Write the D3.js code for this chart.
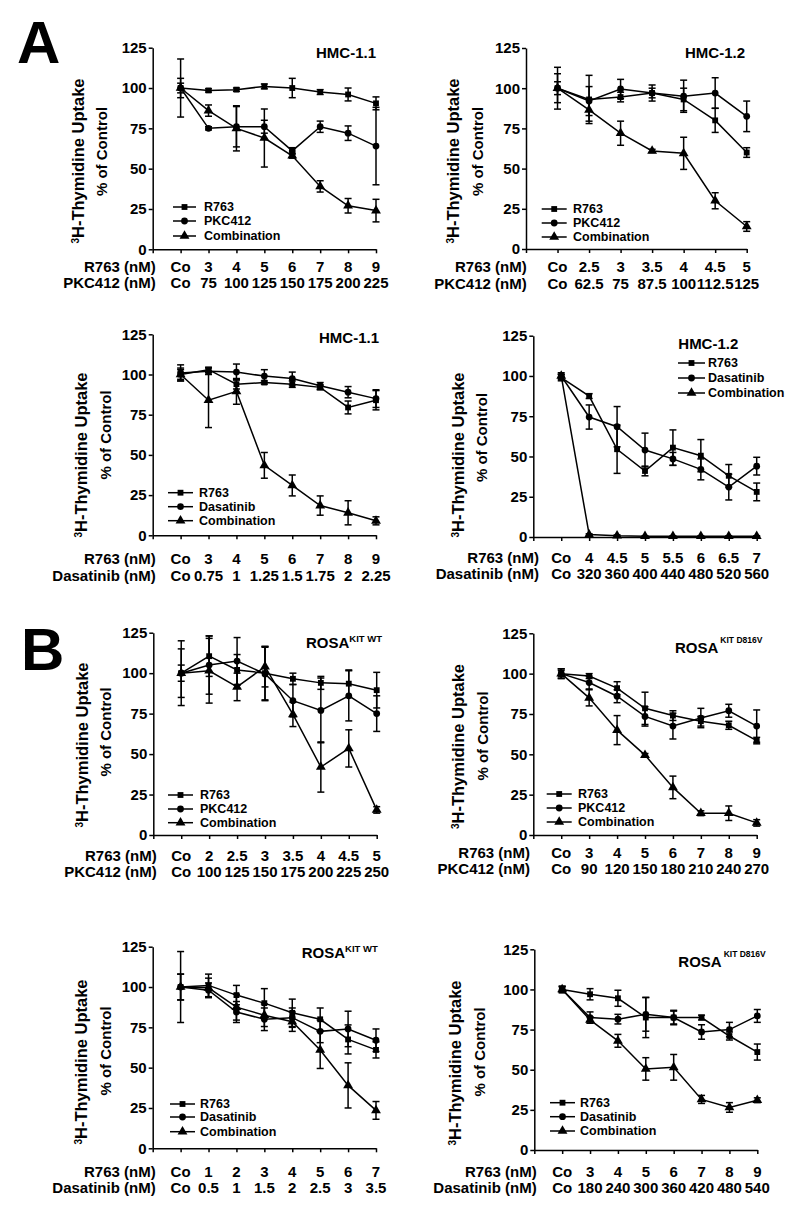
<!DOCTYPE html>
<html>
<head>
<meta charset="utf-8">
<script src="https://cdn.jsdelivr.net/npm/d3@7/dist/d3.min.js"></script>
<style>
  html, body { margin: 0; padding: 0; background: #fff; }
  svg { display: block; font-family: "Liberation Sans", Arial, sans-serif; font-weight: bold; }
</style>
</head>
<body>
<svg id="chart" width="800" height="1214"></svg>
<script>
// ================= DATA =================
const yTickValues = [0, 25, 50, 75, 100, 125];

// Panel 1: HMC-1.1, R763 + PKC412
const p1Title = "HMC-1.1";
const p1Row1 = ["Co", "3", "4", "5", "6", "7", "8", "9"];
const p1Row2 = ["Co", "75", "100", "125", "150", "175", "200", "225"];
const p1R763 = [100, 98.5, 99, 101, 100, 97.5, 96, 90.5];
const p1R763Err = [3, 1, 1, 1.5, 6, 1.5, 4, 4];
const p1Drug = [100, 75, 76, 76, 61, 76, 72, 64];
const p1DrugErr = [6, 1, 12.5, 4, 2, 3.5, 4.5, 24];
const p1Comb = [100, 86, 75, 69, 58, 39, 27, 24];
const p1CombErr = [18, 3.5, 14, 18, 1.5, 3.5, 4.5, 7];

// Panel 2: HMC-1.2, R763 + PKC412
const p2Title = "HMC-1.2";
const p2Row1 = ["Co", "2.5", "3", "3.5", "4", "4.5", "5"];
const p2Row2 = ["Co", "62.5", "75", "87.5", "100", "112.5", "125"];
const p2R763 = [100, 93, 94.5, 97, 93, 80, 60];
const p2R763Err = [4, 15, 3, 3, 7, 7.5, 3];
const p2Drug = [100, 92, 99.5, 97, 95, 97, 82.5];
const p2DrugErr = [9, 9, 6, 5, 10, 9.5, 9.5];
const p2Comb = [100, 86.5, 72, 61, 59.5, 30, 14];
const p2CombErr = [13, 7, 7.5, 1, 10, 5, 3];

// Panel 3: HMC-1.1, R763 + Dasatinib
const p3Title = "HMC-1.1";
const p3Row1 = ["Co", "3", "4", "5", "6", "7", "8", "9"];
const p3Row2 = ["Co", "0.75", "1", "1.25", "1.5", "1.75", "2", "2.25"];
const p3R763 = [100, 103, 94, 95, 94, 92, 79.5, 84];
const p3R763Err = [3, 1.5, 3, 1, 2, 1.5, 4, 6];
const p3Drug = [101, 102, 101.5, 99, 97.5, 93, 89, 85];
const p3DrugErr = [5, 2, 5, 4, 4, 2, 3.5, 5.5];
const p3Comb = [100, 84, 89.5, 43.5, 31, 18.5, 14, 9];
const p3CombErr = [4, 17, 8, 8, 6.5, 6, 7.5, 2.5];

// Panel 4: HMC-1.2, R763 + Dasatinib
const p4Title = "HMC-1.2";
const p4Row1 = ["Co", "4", "4.5", "5", "5.5", "6", "6.5", "7"];
const p4Row2 = ["Co", "320", "360", "400", "440", "480", "520", "560"];
const p4R763 = [99, 87.5, 54.5, 41, 55.5, 50.5, 38, 28];
const p4R763Err = [2, 1.5, 15, 3, 11, 10, 7, 5.5];
const p4Drug = [100, 74.5, 68.5, 54, 48.5, 42, 31, 44];
const p4DrugErr = [2, 7.5, 12.5, 10.5, 4, 6.5, 8, 5.5];
const p4Comb = [100, 1.5, 0.8, 0.5, 0.5, 0.5, 0.5, 0.5];
const p4CombErr = [1, 0.5, 0.5, 0.3, 0.3, 0.3, 0.3, 0.3];

// Panel 5: ROSA KIT WT, R763 + PKC412
const p5Title = ["ROSA", "KIT WT"];
const p5Row1 = ["Co", "2", "2.5", "3", "3.5", "4", "4.5", "5"];
const p5Row2 = ["Co", "100", "125", "150", "175", "200", "225", "250"];
const p5R763 = [100, 110.5, 102, 100, 96.5, 94, 93.5, 89.5];
const p5R763Err = [15, 12.5, 9.5, 16.5, 3.5, 4, 8.5, 11];
const p5Drug = [100, 105, 107.5, 99.5, 83, 77, 86, 75];
const p5DrugErr = [20, 18, 14.5, 16.5, 10, 20, 15.5, 11];
const p5Comb = [100, 101.5, 91.5, 104, 74.5, 42, 53.5, 15.5];
const p5CombErr = [5, 20, 8.5, 12.5, 7.5, 15.5, 11.5, 2];

// Panel 6: ROSA KIT D816V, R763 + PKC412
const p6Title = ["ROSA", "KIT D816V"];
const p6Row1 = ["Co", "3", "4", "5", "6", "7", "8", "9"];
const p6Row2 = ["Co", "90", "120", "150", "180", "210", "240", "270"];
const p6R763 = [100, 98.5, 91, 78.5, 74, 70.5, 68, 58.5];
const p6R763Err = [3, 1.5, 4, 10, 3, 3, 2.5, 2];
const p6Drug = [100, 94.5, 86, 73.5, 67.5, 72.5, 77, 67.5];
const p6DrugErr = [3, 4, 4, 6, 8, 6, 4, 10];
const p6Comb = [100, 85, 65, 49.5, 29.5, 13.5, 13.5, 7.5];
const p6CombErr = [2, 5, 9, 1, 7, 1.5, 4.5, 2];

// Panel 7: ROSA KIT WT, R763 + Dasatinib
const p7Title = ["ROSA", "KIT WT"];
const p7Row1 = ["Co", "1", "2", "3", "4", "5", "6", "7"];
const p7Row2 = ["Co", "0.5", "1", "1.5", "2", "2.5", "3", "3.5"];
const p7R763 = [100, 101, 95, 90, 84, 80, 67.5, 61];
const p7R763Err = [8, 7, 6, 9, 8.5, 7, 9, 5];
const p7Drug = [100, 98, 84.5, 80, 81, 72.5, 74, 67];
const p7DrugErr = [22, 4.5, 6.5, 7, 6, 7, 11, 7];
const p7Comb = [100, 99.5, 87.5, 82.5, 78.5, 61, 39, 23.5];
const p7CombErr = [8, 6, 8, 7, 6, 11.5, 14, 5.5];

// Panel 8: ROSA KIT D816V, R763 + Dasatinib
const p8Title = ["ROSA", "KIT D816V"];
const p8Row1 = ["Co", "3", "4", "5", "6", "7", "8", "9"];
const p8Row2 = ["Co", "180", "240", "300", "360", "420", "480", "540"];
const p8R763 = [100, 97, 94.5, 82.5, 82.5, 82.5, 71, 61];
const p8R763Err = [2, 3.5, 5, 12.5, 4, 1.5, 2.5, 5];
const p8Drug = [100, 82.5, 81.5, 84.5, 82.5, 73.5, 75, 83.5];
const p8DrugErr = [2, 3.5, 3, 10.5, 4.5, 4.5, 4.5, 4];
const p8Comb = [100, 81, 68, 50.5, 51.5, 31.5, 26.5, 31];
const p8CombErr = [1.5, 2, 4, 7, 8, 2.5, 3, 1.5];

// ================= LAYOUT =================
const FONT = 15;
const panels = [
  { title: p1Title, drug: "PKC412", row1: p1Row1, row2: p1Row2,
    series: [[p1R763, p1R763Err], [p1Drug, p1DrugErr], [p1Comb, p1CombErr]],
    L: { x0: 152.7, x1: 376, yt: 47.7, yb: 249.3, rlx: 155.7, r1: 267, r2: 283,
         tx: 376, ty: 58.3, ta: "end", leg: [173, 196, 204, [207, 221, 236]],
         t1: [85, 161], t2: [102, 151.5] } },
  { title: p2Title, drug: "PKC412", row1: p2Row1, row2: p2Row2,
    series: [[p2R763, p2R763Err], [p2Drug, p2DrugErr], [p2Comb, p2CombErr]],
    L: { x0: 526, x1: 746.7, yt: 48, yb: 249, rlx: 526.7, r1: 267, r2: 284,
         tx: 745, ty: 58.3, ta: "end", leg: [541.7, 566.7, 573, [209, 223, 237]],
         t1: [460, 161], t2: [478, 151.5] } },
  { title: p3Title, drug: "Dasatinib", row1: p3Row1, row2: p3Row2,
    series: [[p3R763, p3R763Err], [p3Drug, p3DrugErr], [p3Comb, p3CombErr]],
    L: { x0: 152.7, x1: 376, yt: 334.3, yb: 535.3, rlx: 155.7, r1: 558.3, r2: 576,
         tx: 379, ty: 342.7, ta: "end", leg: [168, 193, 199, [492.7, 506.7, 520.7]],
         t1: [88, 455], t2: [106, 435] } },
  { title: p4Title, drug: "Dasatinib", row1: p4Row1, row2: p4Row2,
    series: [[p4R763, p4R763Err], [p4Drug, p4DrugErr], [p4Comb, p4CombErr]],
    L: { x0: 533.3, x1: 756.7, yt: 335.7, yb: 537, rlx: 539, r1: 558, r2: 574,
         tx: 678.3, ty: 349.3, ta: "start", leg: [678, 705, 708, [363, 378, 393]],
         t1: [465, 455], t2: [482, 437.5] } },
  { title: p5Title, drug: "PKC412", row1: p5Row1, row2: p5Row2, sup: "wt",
    series: [[p5R763, p5R763Err], [p5Drug, p5DrugErr], [p5Comb, p5CombErr]],
    L: { x0: 153.3, x1: 376.7, yt: 632.7, yb: 835, rlx: 156.7, r1: 856, r2: 871.7,
         tx: 306, ty: 648, ta: "start", leg: [168, 193, 200, [795, 809, 822.7]],
         t1: [89, 745], t2: [106, 732] } },
  { title: p6Title, drug: "PKC412", row1: p6Row1, row2: p6Row2, sup: "mut",
    series: [[p6R763, p6R763Err], [p6Drug, p6DrugErr], [p6Comb, p6CombErr]],
    L: { x0: 533.3, x1: 756.7, yt: 633.3, yb: 835, rlx: 530, r1: 852.7, r2: 869,
         tx: 675, ty: 653.3, ta: "start", leg: [546.7, 571.7, 578, [794, 808, 822]],
         t1: [465, 746.5], t2: [483, 736] } },
  { title: p7Title, drug: "Dasatinib", row1: p7Row1, row2: p7Row2, sup: "wt",
    series: [[p7R763, p7R763Err], [p7Drug, p7DrugErr], [p7Comb, p7CombErr]],
    L: { x0: 152.7, x1: 376, yt: 946.7, yb: 1148.3, rlx: 155.7, r1: 1171.7, r2: 1187.3,
         tx: 301.7, ty: 958.3, ta: "start", leg: [170, 195, 200, [1104, 1117, 1131.7]],
         t1: [88, 1062], t2: [106, 1051] } },
  { title: p8Title, drug: "Dasatinib", row1: p8Row1, row2: p8Row2, sup: "mut",
    series: [[p8R763, p8R763Err], [p8Drug, p8DrugErr], [p8Comb, p8CombErr]],
    L: { x0: 534.3, x1: 757.3, yt: 949.3, yb: 1150, rlx: 536.7, r1: 1171.7, r2: 1187.3,
         tx: 678.3, ty: 966.7, ta: "start", leg: [550, 575, 580, [1102.7, 1116.7, 1131]],
         t1: [461.7, 1063], t2: [480, 1052] } }
];

const svg = d3.select("#chart");
const symbols = [d3.symbolSquare, d3.symbolCircle, d3.symbolTriangle];
const symSizes = [34, 36, 42];

function marker(g, k, cx, cy) {
  g.append("path")
    .attr("d", d3.symbol().type(symbols[k]).size(symSizes[k])())
    .attr("transform", `translate(${cx},${cy})`)
    .attr("fill", "#000");
}

function drawPanel(P) {
  const L = P.L;
  const g = svg.append("g");
  const n = P.row1.length;
  const x = d3.scalePoint().domain(d3.range(n + 1)).range([L.x0, L.x1]);
  const y = d3.scaleLinear().domain([0, 125]).range([L.yb, L.yt]);

  // axes
  const xa = g.append("g").attr("transform", `translate(0,${L.yb})`)
    .call(d3.axisBottom(x).tickSize(4).tickSizeOuter(0).tickFormat(""));
  const ya = g.append("g").attr("transform", `translate(${L.x0},0)`)
    .call(d3.axisLeft(y).tickValues(yTickValues).tickSize(4).tickSizeOuter(0).tickPadding(2));
  [xa, ya].forEach(a => {
    a.selectAll("path,line").attr("stroke", "#000").attr("stroke-width", 1.5);
    a.selectAll("text").attr("font-size", FONT).attr("font-weight", "bold")
      .attr("font-family", "'Liberation Sans', Arial, sans-serif").attr("fill", "#000");
  });

  // category labels
  const rows = [[P.row1, L.r1, "R763 (nM)"], [P.row2, L.r2, P.drug + " (nM)"]];
  rows.forEach(([labs, ry, name]) => {
    g.append("text").attr("x", L.rlx).attr("y", ry).attr("dy", "0.35em")
      .attr("text-anchor", "end").attr("font-size", FONT).text(name);
    g.selectAll(null).data(labs).enter().append("text")
      .attr("x", (d, i) => x(i + 1)).attr("y", ry).attr("dy", "0.35em")
      .attr("text-anchor", "middle").attr("font-size", FONT).text(d => d);
  });

  // y title
  const t1 = g.append("text").attr("transform", `translate(${L.t1[0]},${L.t1[1]}) rotate(-90)`)
    .attr("text-anchor", "middle").attr("dy", "0.35em").attr("font-size", 16.5);
  t1.append("tspan").attr("font-size", 10).attr("dy", "-0.1em").attr("baseline-shift", "super").text("3");
  t1.append("tspan").text("H-Thymidine Uptake");
  g.append("text").attr("transform", `translate(${L.t2[0]},${L.t2[1]}) rotate(-90)`)
    .attr("text-anchor", "middle").attr("dy", "0.35em").attr("font-size", FONT).text("% of Control");

  // panel title
  if (Array.isArray(P.title)) {
    const tt = g.append("text").attr("x", L.tx).attr("y", L.ty).attr("text-anchor", L.ta).attr("font-size", FONT);
    tt.append("tspan").text(P.title[0]);
    if (P.sup === "wt") {
      tt.append("tspan").attr("font-size", 9.5).attr("dy", -6).text(P.title[1]);
    } else {
      tt.append("tspan").attr("font-size", 8.5).attr("dx", 2).attr("dy", -10).text(P.title[1]);
    }
  } else {
    g.append("text").attr("x", L.tx).attr("y", L.ty).attr("text-anchor", L.ta)
      .attr("font-size", FONT).text(P.title);
  }

  // series
  const line = d3.line().x(d => x(d.i)).y(d => y(d.v));
  P.series.forEach(([vals, errs], k) => {
    const pts = vals.map((v, i) => ({ i: i + 1, v, e: errs[i] }));
    g.append("path").datum(pts).attr("d", line)
      .attr("fill", "none").attr("stroke", "#000").attr("stroke-width", 1.5);
  });
  P.series.forEach(([vals, errs], k) => {
    const pts = vals.map((v, i) => ({ i: i + 1, v, e: errs[i] }));
    const eb = g.append("g").attr("stroke", "#000").attr("stroke-width", 1.5);
    pts.forEach(p => {
      const cx = x(p.i), top = y(p.v + p.e), bot = y(Math.max(0, p.v - p.e));
      eb.append("line").attr("x1", cx).attr("x2", cx).attr("y1", top).attr("y2", bot);
      eb.append("line").attr("x1", cx - 3.5).attr("x2", cx + 3.5).attr("y1", top).attr("y2", top);
      eb.append("line").attr("x1", cx - 3.5).attr("x2", cx + 3.5).attr("y1", bot).attr("y2", bot);
    });
    pts.forEach(p => marker(g, k, x(p.i), y(p.v)));
  });

  // legend
  const names = ["R763", P.drug, "Combination"];
  const [lx1, lx2, ltx, lys] = L.leg;
  names.forEach((nm, k) => {
    g.append("line").attr("x1", lx1).attr("x2", lx2).attr("y1", lys[k]).attr("y2", lys[k])
      .attr("stroke", "#000").attr("stroke-width", 1.5);
    marker(g, k, (lx1 + lx2) / 2, lys[k]);
    g.append("text").attr("x", ltx).attr("y", lys[k]).attr("dy", "0.35em")
      .attr("font-size", 12.5).text(nm);
  });
}

panels.forEach(drawPanel);

// panel letters
svg.append("text").attr("x", 17).attr("y", 63).attr("font-size", 60).text("A");
svg.append("text").attr("x", 21).attr("y", 670).attr("font-size", 60).text("B");
</script>
</body>
</html>
